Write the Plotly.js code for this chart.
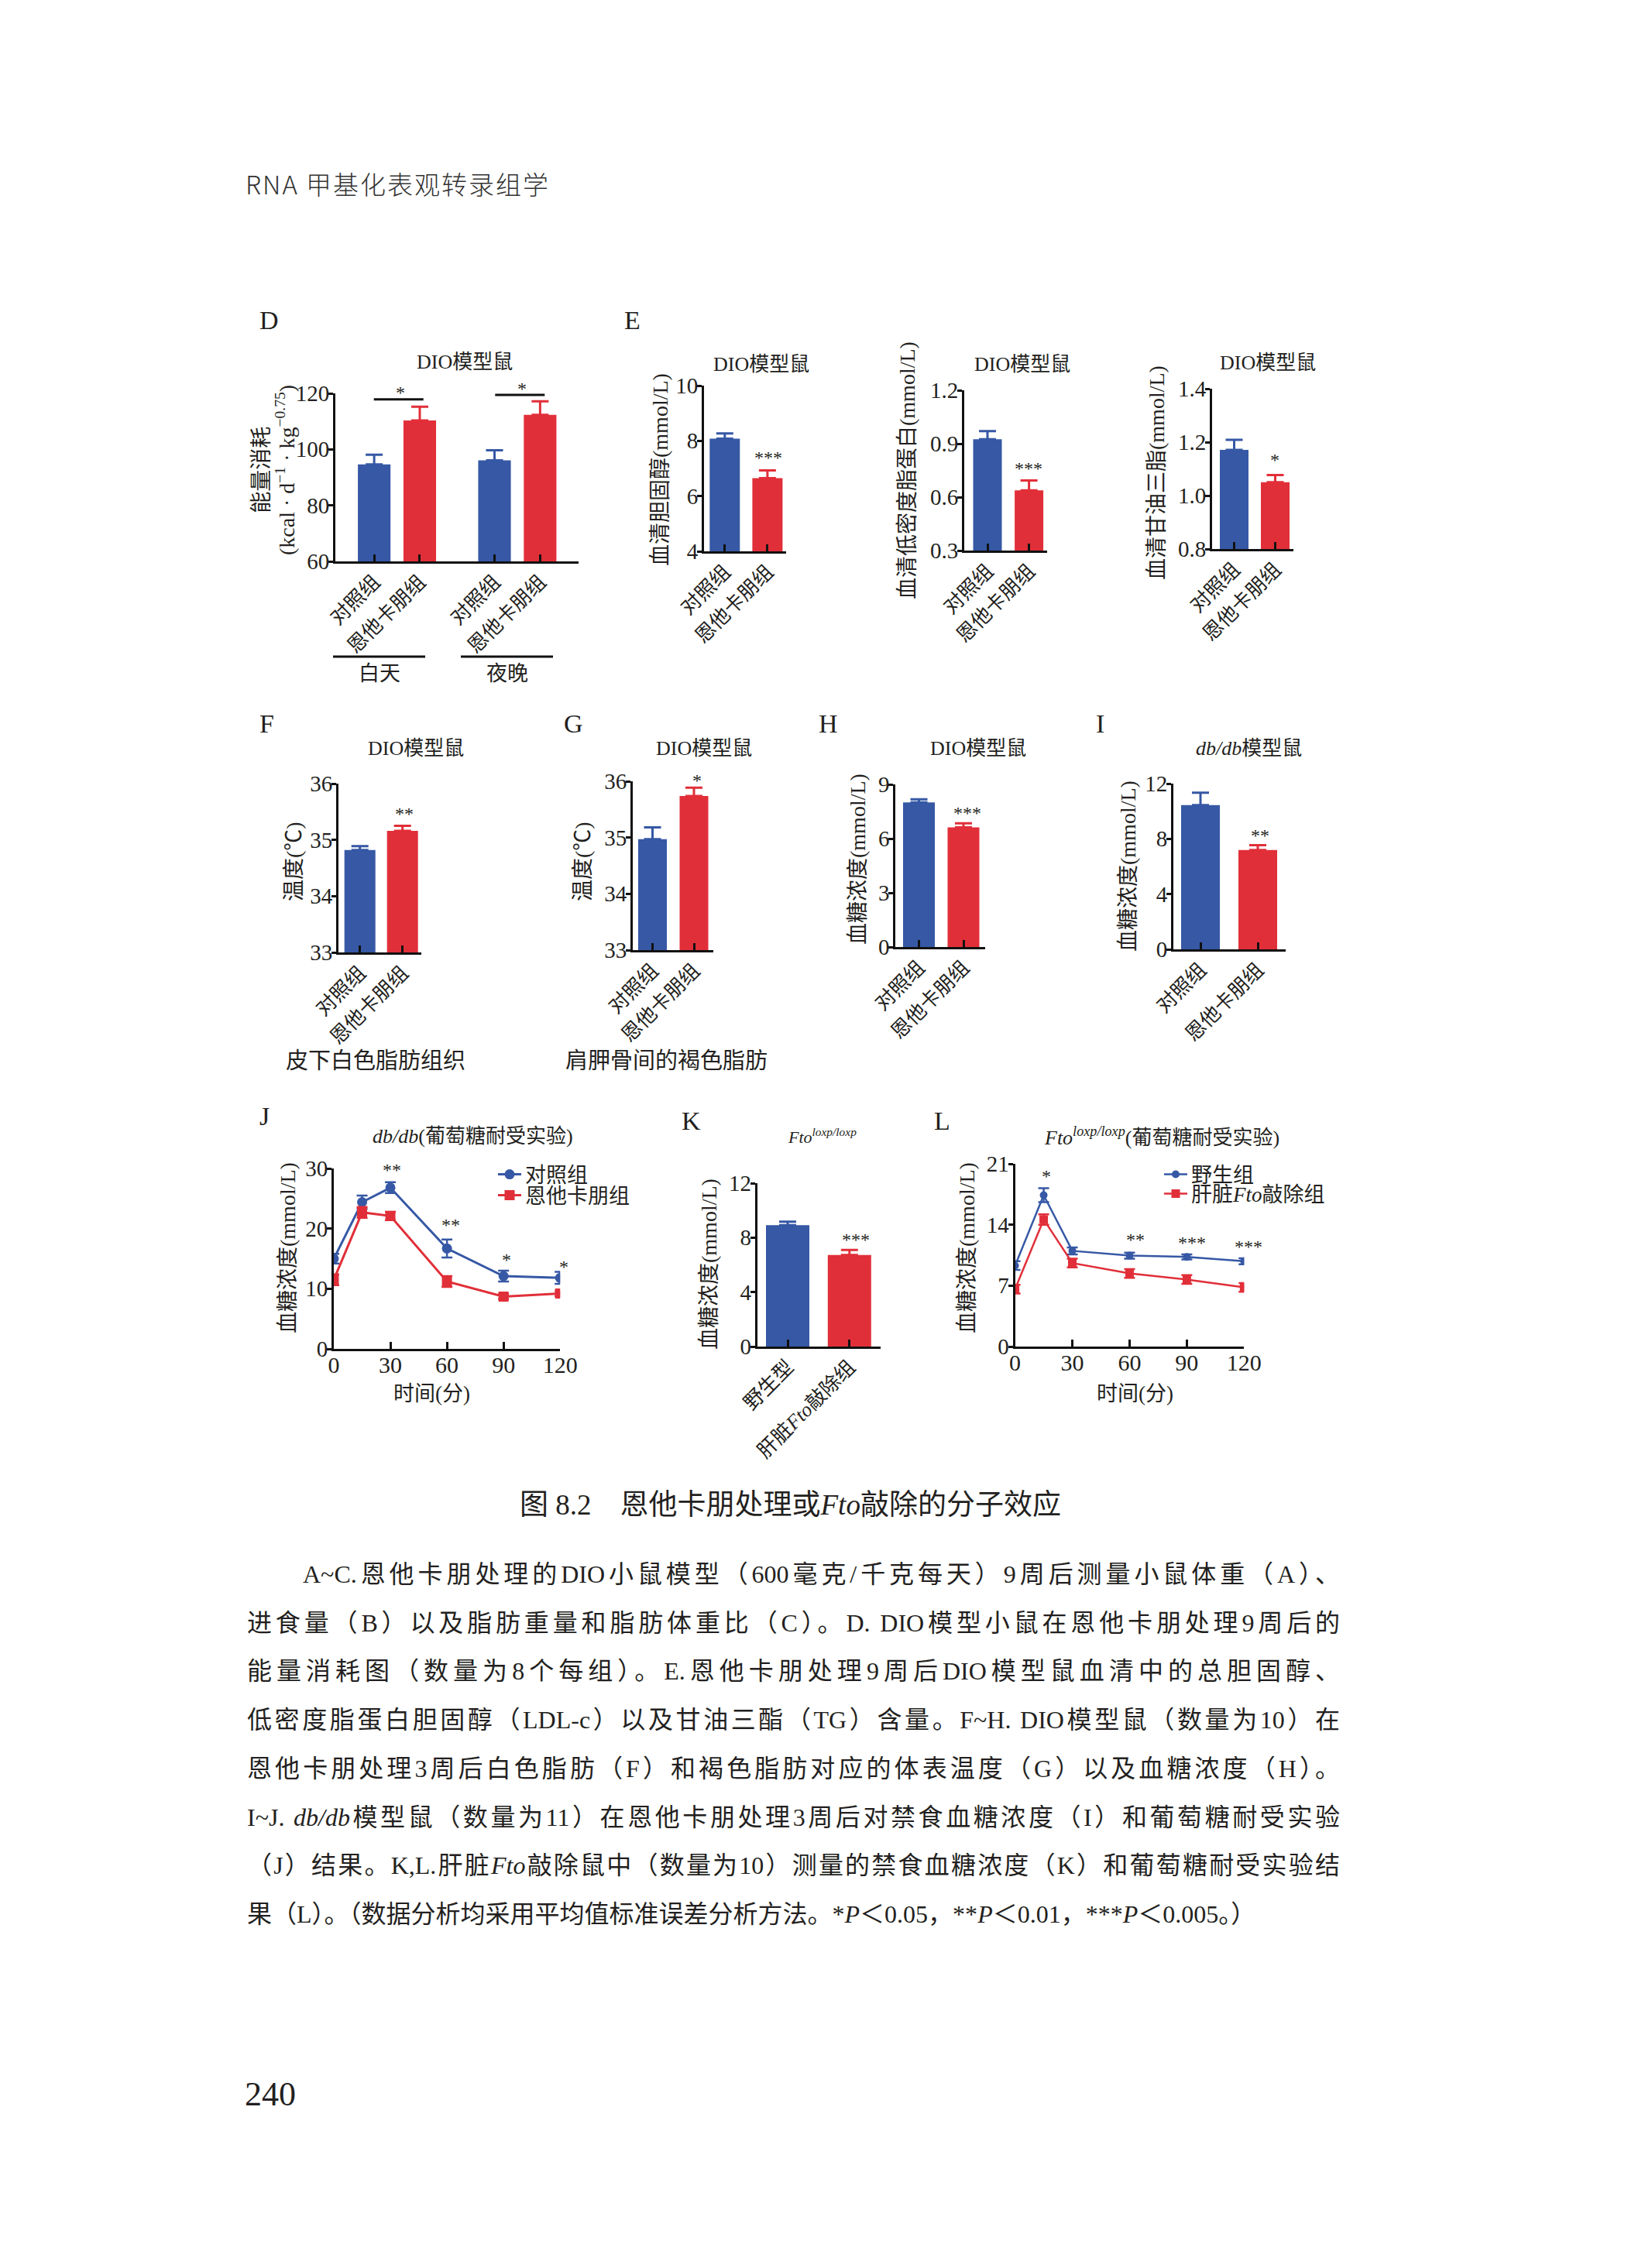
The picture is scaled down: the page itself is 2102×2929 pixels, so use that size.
<!DOCTYPE html>
<html><head><meta charset="utf-8">
<script src="https://cdn.plot.ly/plotly-3.0.1.min.js"></script>
<style>
html,body{margin:0;padding:0;background:#fff;}
#page{position:relative;width:2102px;height:2929px;overflow:hidden;background:#fff;}
#chart{position:absolute;left:0;top:0;width:2102px;height:2929px;}
</style></head><body>
<div id="page"><div id="chart"></div></div>
<script>
// ---------------- data ----------------
const groupLabels = ['对照组', '恩他卡朋组'];
const periods = ['白天', '夜晚'];
const energyCtrl = [94.6, 96.1];
const energyCtrlErr = [3.5, 3.6];
const energyTreat = [110.3, 112.3];
const energyTreatErr = [4.9, 4.9];
const cholesterol = [8.08, 6.65];
const cholesterolErr = [0.19, 0.28];
const ldl = [0.925, 0.638];
const ldlErr = [0.046, 0.055];
const tg = [1.171, 1.05];
const tgErr = [0.038, 0.027];
const tempWhite = [34.82, 35.16];
const tempWhiteErr = [0.07, 0.09];
const tempBrown = [34.97, 35.74];
const tempBrownErr = [0.21, 0.145];
const glucoseDIO = [8.0, 6.62];
const glucoseDIOErr = [0.17, 0.23];
const glucoseDb = [10.45, 7.19];
const glucoseDbErr = [0.89, 0.35];
const ftoGroups = ['野生型', '肝脏<i>Fto</i>敲除组'];
const glucoseFto = [8.92, 6.72];
const glucoseFtoErr = [0.25, 0.38];
const gttTime = [0, 15, 30, 60, 90, 120];
const dbGttCtrl = [15.0, 24.4, 26.8, 16.7, 12.1, 11.8];
const dbGttCtrlErr = [0.8, 1.1, 0.9, 1.5, 0.9, 1.0];
const dbGttTreat = [11.5, 22.7, 22.1, 11.2, 8.7, 9.2];
const dbGttTreatErr = [0.9, 0.9, 0.7, 0.9, 0.4, 0.4];
const ftoGttWt = [9.3, 17.4, 11.0, 10.45, 10.3, 9.8];
const ftoGttWtErr = [0.5, 0.8, 0.4, 0.35, 0.3, 0.35];
const ftoGttKo = [6.6, 14.6, 9.6, 8.4, 7.7, 6.8];
const ftoGttKoErr = [0.5, 0.6, 0.5, 0.5, 0.5, 0.5];
const dbLegend = ['对照组', '恩他卡朋组'];
const ftoLegend = ['野生组', '肝脏<i>Fto</i>敲除组'];
const timeTicks = [0, 30, 60, 90, 120];

const IT = s => '<span style="font-style:italic;font-size:32px">' + s + '</span>';
const bodyLines = [
 'A~C.恩他卡朋处理的DIO小鼠模型（600毫克/千克每天）9周后测量小鼠体重（A）、',
 '进食量（B）以及脂肪重量和脂肪体重比（C）。D. DIO模型小鼠在恩他卡朋处理9周后的',
 '能量消耗图（数量为8个每组）。E.恩他卡朋处理9周后DIO模型鼠血清中的总胆固醇、',
 '低密度脂蛋白胆固醇（LDL-c）以及甘油三酯（TG）含量。F~H. DIO模型鼠（数量为10）在',
 '恩他卡朋处理3周后白色脂肪（F）和褐色脂肪对应的体表温度（G）以及血糖浓度（H）。',
 'I~J. ' + IT('db/db') + '模型鼠（数量为11）在恩他卡朋处理3周后对禁食血糖浓度（I）和葡萄糖耐受实验',
 '（J）结果。K,L.肝脏' + IT('Fto') + '敲除鼠中（数量为10）测量的禁食血糖浓度（K）和葡萄糖耐受实验结',
 '果（L）。（数据分析均采用平均值标准误差分析方法。*' + IT('P') + '＜0.05，**' + IT('P') + '＜0.01，***' + IT('P') + '＜0.005。）'
];

// ---------------- helpers ----------------
const W = 2102, H = 2929;
const SERIF = "'Liberation Serif', 'Noto Sans CJK SC', serif";
const BLUE = '#3658a5', RED = '#e12f39', INK = '#231f20';
const YTICK_FONT = 29, XTIME_FONT = 30, XLABEL_FONT = 26;
const px = x => x / W;
const py = y => 1 - y / H;
const xa = n => 'x' + (n === 1 ? '' : n);
const ya = n => 'y' + (n === 1 ? '' : n);
const xk = n => 'xaxis' + (n === 1 ? '' : n);
const yk = n => 'yaxis' + (n === 1 ? '' : n);

const layout = {
  width: W, height: H, margin: {l: 0, r: 0, t: 0, b: 0},
  paper_bgcolor: '#ffffff', plot_bgcolor: 'rgba(0,0,0,0)',
  barmode: 'overlay', hovermode: false, showlegend: true,
  font: {family: SERIF, color: INK, size: 25},
  annotations: [], shapes: []
};
const traces = [];

function yAxis(n, box, yr, tv, fmt) {
  layout[yk(n)] = {
    domain: [py(box[3]), py(box[2])], anchor: xa(n), range: yr, tickvals: tv,
    tickformat: fmt || '', ticks: 'outside', ticklen: 6, tickwidth: 3, tickcolor: '#111',
    ticklabelstandoff: -7,
    showline: true, linewidth: 3, linecolor: '#111', showgrid: false, zeroline: false,
    tickfont: {family: SERIF, size: YTICK_FONT, color: INK}, fixedrange: true
  };
}
function xAxisBase(n, box, fs, standoff) {
  return {
    domain: [px(box[0]), px(box[1])], anchor: ya(n), type: 'linear',
    ticks: 'inside', ticklen: 9, tickwidth: 3, tickcolor: '#111', ticklabelstandoff: standoff,
    showline: true, linewidth: 3, linecolor: '#111', showgrid: false, zeroline: false,
    tickfont: {family: SERIF, size: fs, color: INK}, fixedrange: true
  };
}
function errBar(err, color, sym) {
  return sym
    ? {type: 'data', array: err, color: color, thickness: 2.5, width: 7, visible: true}
    : {type: 'data', symmetric: false, array: err, arrayminus: err.map(() => 0), color: color, thickness: 3, width: 11, visible: true};
}
function ann(text, x, y, size, extra) {
  layout.annotations.push(Object.assign({
    text: text, x: px(x), y: py(y), xref: 'paper', yref: 'paper',
    xanchor: 'center', yanchor: 'middle', showarrow: false,
    font: {family: SERIF, size: size, color: INK}
  }, extra || {}));
}
function hline(x0, x1, y) {
  layout.shapes.push({type: 'line', xref: 'paper', yref: 'paper', x0: px(x0), x1: px(x1), y0: py(y), y1: py(y), line: {color: '#111', width: 3}});
}

// ---------------- panel D (grouped bars) ----------------
(function () {
  const n = 1, box = [433, 747, 508, 725];
  const unit = 58.7, groupStep = 2.64;
  const xs = periods.map((p, pi) => groupLabels.map((g, gi) => pi * groupStep + gi));
  yAxis(n, box, [60, 120], [60, 80, 100, 120]);
  layout[xk(n)] = Object.assign(xAxisBase(n, box, XLABEL_FONT, -2), {
    range: [-(483 - 433) / unit, 1 + groupStep + (747 - 697.5) / unit],
    tickvals: xs.flat(), ticktext: periods.flatMap(() => groupLabels), tickangle: -45
  });
  traces.push({type: 'bar', x: xs.map(a => a[0]), y: energyCtrl, width: 42 / unit, marker: {color: BLUE},
    error_y: errBar(energyCtrlErr, BLUE, false), xaxis: xa(n), yaxis: ya(n), showlegend: false});
  traces.push({type: 'bar', x: xs.map(a => a[1]), y: energyTreat, width: 42 / unit, marker: {color: RED},
    error_y: errBar(energyTreatErr, RED, false), xaxis: xa(n), yaxis: ya(n), showlegend: false});
})();

// ---------------- simple two-bar panels ----------------
const barPanels = [
  {n: 2, box: [909, 1015, 498, 712], yr: [4, 10], tv: [4, 6, 8, 10], fmt: '', c: [935.8, 990.9], bw: 39, vals: cholesterol, errs: cholesterolErr, cats: groupLabels},
  {n: 3, box: [1245, 1352, 504, 711], yr: [0.3, 1.2], tv: [0.3, 0.6, 0.9, 1.2], fmt: '.1f', c: [1275, 1328.6], bw: 37, vals: ldl, errs: ldlErr, cats: groupLabels},
  {n: 4, box: [1565, 1670, 502, 709], yr: [0.8, 1.4], tv: [0.8, 1.0, 1.2, 1.4], fmt: '.1f', c: [1593.5, 1646.5], bw: 37, vals: tg, errs: tgErr, cats: groupLabels},
  {n: 5, box: [437, 544, 1012, 1230], yr: [33, 36], tv: [33, 34, 35, 36], fmt: '', c: [464.7, 519.7], bw: 40, vals: tempWhite, errs: tempWhiteErr, cats: groupLabels},
  {n: 6, box: [817, 920.5, 1009, 1227], yr: [33, 36], tv: [33, 34, 35, 36], fmt: '', c: [842.5, 896], bw: 37, vals: tempBrown, errs: tempBrownErr, cats: groupLabels},
  {n: 7, box: [1156.4, 1272, 1013, 1223], yr: [0, 9], tv: [0, 3, 6, 9], fmt: '', c: [1186.5, 1244], bw: 41, vals: glucoseDIO, errs: glucoseDIOErr, cats: groupLabels},
  {n: 8, box: [1515, 1660, 1012, 1226], yr: [0, 12], tv: [0, 4, 8, 12], fmt: '', c: [1550, 1624], bw: 50, vals: glucoseDb, errs: glucoseDbErr, cats: groupLabels},
  {n: 9, box: [977.7, 1136.7, 1528, 1739], yr: [0, 12], tv: [0, 4, 8, 12], fmt: '', c: [1017, 1096.8], bw: 56, vals: glucoseFto, errs: glucoseFtoErr, cats: ftoGroups}
];
barPanels.forEach(p => {
  const u = p.c[1] - p.c[0];
  const pos = p.cats.map((c, i) => i);
  yAxis(p.n, p.box, p.yr, p.tv, p.fmt);
  layout[xk(p.n)] = Object.assign(xAxisBase(p.n, p.box, XLABEL_FONT, -2), {
    range: [-(p.c[0] - p.box[0]) / u, 1 + (p.box[1] - p.c[1]) / u],
    tickvals: pos, ticktext: p.cats, tickangle: -45
  });
  [BLUE, RED].forEach((col, i) => {
    traces.push({type: 'bar', x: [pos[i]], y: [p.vals[i]], width: p.bw / u, marker: {color: col},
      error_y: errBar([p.errs[i]], col, false), xaxis: xa(p.n), yaxis: ya(p.n), showlegend: false});
  });
});

// ---------------- line panels J and L ----------------
function linePanel(n, box, yr, tv, series) {
  yAxis(n, box, yr, tv);
  layout[xk(n)] = Object.assign(xAxisBase(n, box, XTIME_FONT, -8), {range: [0, 120], tickvals: timeTicks});
  series.forEach(s => {
    traces.push({type: 'scatter', mode: 'lines+markers', x: gttTime, y: s.y, name: s.name,
      line: {color: s.color, width: s.lw}, marker: {color: s.color, symbol: s.symbol, size: s.size},
      error_y: errBar(s.err, s.color, true), xaxis: xa(n), yaxis: ya(n), legend: s.legend, showlegend: true});
  });
}
linePanel(10, [431, 723.2, 1509, 1742], [0, 30], [0, 10, 20, 30], [
  {y: dbGttCtrl, err: dbGttCtrlErr, name: dbLegend[0], color: BLUE, symbol: 'circle', size: 13, lw: 3, legend: 'legend'},
  {y: dbGttTreat, err: dbGttTreatErr, name: dbLegend[1], color: RED, symbol: 'square', size: 13, lw: 3, legend: 'legend2'}
]);
linePanel(11, [1310.6, 1606.3, 1503, 1739], [0, 21], [0, 7, 14, 21], [
  {y: ftoGttWt, err: ftoGttWtErr, name: ftoLegend[0], color: BLUE, symbol: 'circle', size: 10, lw: 2.5, legend: 'legend3'},
  {y: ftoGttKo, err: ftoGttKoErr, name: ftoLegend[1], color: RED, symbol: 'square', size: 11, lw: 2.5, legend: 'legend4'}
]);
const legendStyle = {xanchor: 'left', yanchor: 'middle', bgcolor: 'rgba(0,0,0,0)', borderwidth: 0,
  font: {family: SERIF, size: 27, color: INK}, itemwidth: 30, tracegroupgap: 0, orientation: 'v'};
[['legend', 638, 1517], ['legend2', 638, 1544], ['legend3', 1498, 1517], ['legend4', 1498, 1542]].forEach(l => {
  layout[l[0]] = Object.assign({x: px(l[1]), y: py(l[2])}, legendStyle);
});

// ---------------- text ----------------
[['D', 347, 413], ['E', 816, 413], ['F', 344, 935], ['G', 740, 935], ['H', 1069, 935], ['I', 1420, 935],
 ['J', 341, 1442], ['K', 892, 1448], ['L', 1216, 1448]].forEach(a => ann(a[0], a[1], a[2], 34));

[['DIO模型鼠', 600, 467], ['DIO模型鼠', 982.5, 470], ['DIO模型鼠', 1319.5, 470], ['DIO模型鼠', 1636.7, 468],
 ['DIO模型鼠', 536.6, 967], ['DIO模型鼠', 909.4, 967], ['DIO模型鼠', 1263, 967], ['<i>db/db</i>模型鼠', 1612, 967],
 ['<i>db/db</i>(葡萄糖耐受实验)', 610.7, 1467], ['<i>Fto</i><sup><i>loxp/loxp</i></sup>(葡萄糖耐受实验)', 1500, 1467]
].forEach(a => ann(a[0], a[1], a[2], 26));
ann('<i>Fto</i><sup><i>loxp/loxp</i></sup>', 1061, 1467, 22);

[['能量消耗', 336.7, 607], ['(kcal · d<sup>−1</sup> · kg<sup>−0.75</sup>)', 368, 607],
 ['血清胆固醇(mmol/L)', 852, 607], ['血清低密度脂蛋白(mmol/L)', 1171, 608], ['血清甘油三脂(mmol/L)', 1493, 611],
 ['温度(℃)', 380, 1113], ['温度(℃)', 753, 1113], ['血糖浓度(mmol/L)', 1108, 1110], ['血糖浓度(mmol/L)', 1457, 1119],
 ['血糖浓度(mmol/L)', 371, 1612], ['血糖浓度(mmol/L)', 915, 1633], ['血糖浓度(mmol/L)', 1248, 1612]
].forEach(a => ann(a[0], a[1], a[2], 28, {textangle: -90}));

[['皮下白色脂肪组织', 485, 1370, 29], ['肩胛骨间的褐色脂肪', 860, 1370, 29], ['白天', 490, 870, 27], ['夜晚', 655, 870, 27],
 ['时间(分)', 557, 1800, 27], ['时间(分)', 1465.6, 1800, 27]].forEach(a => ann(a[0], a[1], a[2], a[3]));

[['*', 516.7, 498], ['*', 674, 493], ['***', 992, 582], ['***', 1328, 596], ['*', 1645.5, 585],
 ['**', 522, 1042], ['*', 899.6, 999], ['***', 1248.7, 1041], ['**', 1626.6, 1070], ['***', 1105, 1592],
 ['**', 506.4, 1502], ['**', 582, 1573], ['*', 653.6, 1618], ['*', 727.5, 1627],
 ['*', 1351, 1510], ['**', 1465.6, 1592], ['***', 1539, 1596], ['***', 1612, 1601]
].forEach(a => ann(a[0], a[1], a[2], 24, {yshift: -9}));

hline(482.7, 546.7, 515.7);
hline(639.3, 703.3, 510);
hline(430, 549, 848);
hline(595, 714, 848);

ann('图 8.2　恩他卡朋处理或<i>Fto</i>敲除的分子效应', 1020, 1943, 37);

Plotly.newPlot('chart', traces, layout, {staticPlot: true, displayModeBar: false});

// ---------------- page text ----------------
const page = document.getElementById('page');
const BODY_FAMILY = "'Liberation Serif','Noto Sans CJK SC',serif";
function addDiv(html, style) {
  const d = document.createElement('div');
  d.innerHTML = html;
  Object.assign(d.style, {position: 'absolute', color: INK, fontFamily: BODY_FAMILY}, style);
  page.appendChild(d);
}
addDiv('RNA 甲基化表观转录组学', {left: '317px', top: '217px', fontSize: '33px', lineHeight: '40px',
  fontFamily: "'Noto Sans CJK SC','Noto Sans',sans-serif", fontWeight: '300', color: '#333', letterSpacing: '2px', whiteSpace: 'nowrap'});
bodyLines.forEach((t, i) => {
  const cy = 2033 + i * 62.7;
  const first = i === 0, last = i === bodyLines.length - 1;
  addDiv(t, {
    left: (first ? 391 : 319) + 'px', top: (cy - 20) + 'px',
    width: (first ? 1339 : 1411) + 'px',
    fontSize: '32px', lineHeight: '40px',
    textAlign: last ? 'left' : 'justify', textAlignLast: last ? 'left' : 'justify'
  });
});
addDiv('240', {left: '316px', top: '2682px', fontSize: '44px', lineHeight: '46px', whiteSpace: 'nowrap'});
</script>
</body></html>
